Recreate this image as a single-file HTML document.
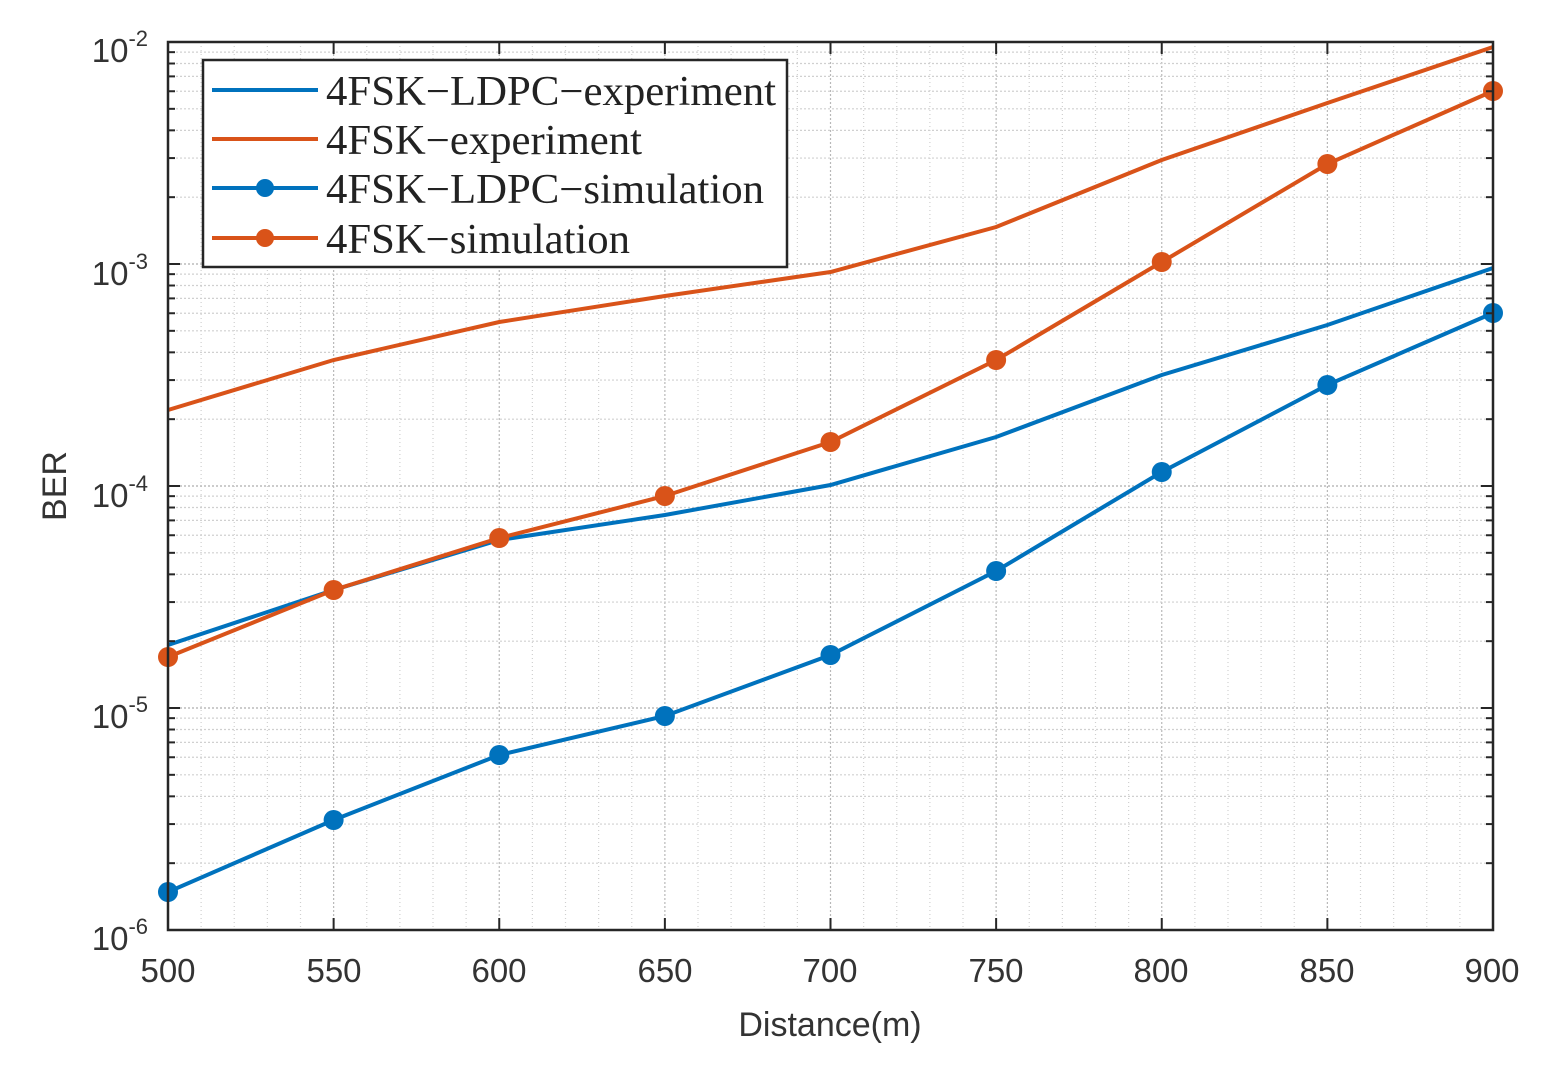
<!DOCTYPE html>
<html><head><meta charset="utf-8"><style>
html,body{margin:0;padding:0;background:#fff;}
svg{display:block;}
</style></head><body>
<svg id="s" width="1542" height="1073" xmlns="http://www.w3.org/2000/svg" font-family="Liberation Sans, Arial, sans-serif">
<rect width="1542" height="1073" fill="#fff"/>
<g id="grid"></g>
<g id="data"></g>
<rect x="168" y="42" width="1325" height="888" fill="none" stroke="#262626" stroke-width="2.5"/>
<g id="ticks"></g>
<g font-size="33" fill="#333" text-anchor="middle">
<text x="168" y="982">500</text><text x="334" y="982">550</text><text x="499" y="982">600</text>
<text x="665" y="982">650</text><text x="830" y="982">700</text><text x="996" y="982">750</text>
<text x="1161" y="982">800</text><text x="1327" y="982">850</text><text x="1492" y="982">900</text>
<text x="830" y="1036" font-size="34">Distance(m)</text>
<text transform="translate(66,486) rotate(-90)" font-size="34">BER</text>
</g>
<g font-size="33" fill="#333" text-anchor="end">
<text x="148" y="62">10<tspan dy="-16" font-size="22">-2</tspan></text>
<text x="148" y="285">10<tspan dy="-16" font-size="22">-3</tspan></text>
<text x="148" y="507">10<tspan dy="-16" font-size="22">-4</tspan></text>
<text x="148" y="728">10<tspan dy="-16" font-size="22">-5</tspan></text>
<text x="148" y="950">10<tspan dy="-16" font-size="22">-6</tspan></text>
</g>
<rect x="203" y="60" width="584" height="207" fill="#fff" stroke="#262626" stroke-width="2.5"/>
<g stroke-width="4">
<line x1="212" y1="90" x2="318" y2="90" stroke="#0072BD"/>
<line x1="212" y1="139" x2="318" y2="139" stroke="#D95319"/>
<line x1="212" y1="188" x2="318" y2="188" stroke="#0072BD"/>
<circle cx="265" cy="188" r="9" fill="#0072BD"/>
<line x1="212" y1="238" x2="318" y2="238" stroke="#D95319"/>
<circle cx="265" cy="238" r="9" fill="#D95319"/>
</g>
<g font-family="Liberation Serif, serif" font-size="42" fill="#222">
<text x="326" y="105" textLength="450" lengthAdjust="spacingAndGlyphs">4FSK−LDPC−experiment</text>
<text x="326" y="154" textLength="316" lengthAdjust="spacingAndGlyphs">4FSK−experiment</text>
<text x="326" y="203" textLength="438" lengthAdjust="spacingAndGlyphs">4FSK−LDPC−simulation</text>
<text x="326" y="253" textLength="304" lengthAdjust="spacingAndGlyphs">4FSK−simulation</text>
</g>
</svg>
<script>
var NS="http://www.w3.org/2000/svg",g=document.getElementById('grid'),t=document.getElementById('ticks'),d=document.getElementById('data');
function L(p,a,b,c,e,s,w,da){var l=document.createElementNS(NS,'line');l.setAttribute('x1',a);l.setAttribute('y1',b);l.setAttribute('x2',c);l.setAttribute('y2',e);l.setAttribute('stroke',s);l.setAttribute('stroke-width',w);if(da)l.setAttribute('stroke-dasharray',da);p.appendChild(l);}
var X0=168,X1=1493,Y0=42,D=222;
function xp(v){return X0+(v-500)/400*(X1-X0);}
for(var v=500;v<=900;v+=10){var x=xp(v);var maj=(v%50==0);L(g,x,Y0,x,930,maj?'#b8b8b8':'#d0d0d0',1.2,maj?'2,2':'1,3');if(maj){L(t,x,930,x,918,'#262626',2);L(t,x,42,x,54,'#262626',2);}}
for(var k=0;k<4;k++){for(var m=1;m<=10;m++){var y=Y0+D*(k+1)-D*Math.log10(m);L(g,X0,y,X1,y,m==1||m==10?'#b8b8b8':'#d0d0d0',1.2,'2,2');L(t,X0,y,X0+(m==1||m==10?12:7),y,'#262626',2);L(t,X1,y,X1-(m==1||m==10?12:7),y,'#262626',2);}}
var S=[["#0072BD",[645,590,540,515,485,437,375,325,268],0],["#D95319",[410,360,322,296,272,227,160,103,47],0],["#0072BD",[892,820,755,716,655,571,472,385,313],1],["#D95319",[657,590,538,496,442,360,262,164,91],1]];
S.forEach(function(s){var p=document.createElementNS(NS,'polyline');var pts=s[1].map(function(y,i){return xp(500+50*i)+','+y;}).join(' ');p.setAttribute('points',pts);p.setAttribute('fill','none');p.setAttribute('stroke',s[0]);p.setAttribute('stroke-width',4);d.appendChild(p);if(s[2])s[1].forEach(function(y,i){var c=document.createElementNS(NS,'circle');c.setAttribute('cx',xp(500+50*i));c.setAttribute('cy',y);c.setAttribute('r',10);c.setAttribute('fill',s[0]);d.appendChild(c);});});
</script>
</body></html>
